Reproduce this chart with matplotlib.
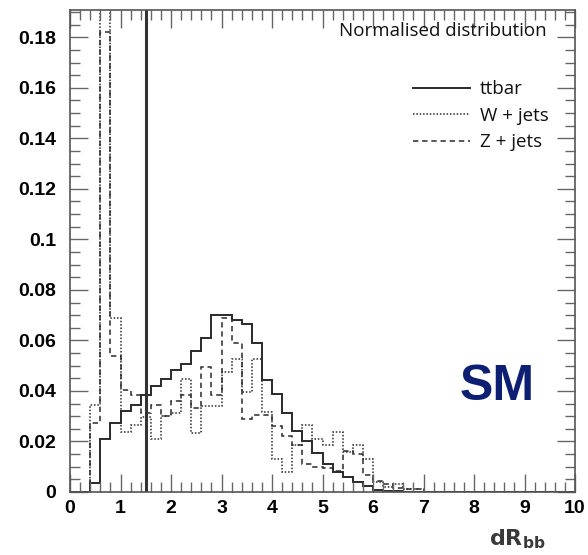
import matplotlib
matplotlib.use("Agg")
import matplotlib.pyplot as plt
from matplotlib.lines import Line2D
from matplotlib.ticker import MultipleLocator, FixedLocator
import numpy as np

# bin edges (width 0.2 from 0 to 10)
bin_edges = [round(0.2 * i, 1) for i in range(51)]

ttbar = [0, 0, 0.0036, 0.0211, 0.0274, 0.0320, 0.0345, 0.0383, 0.0419, 0.0446,
         0.0482, 0.0505, 0.0557, 0.0610, 0.0700, 0.0700, 0.0682, 0.0664, 0.0591, 0.0445,
         0.0388, 0.0314, 0.0243, 0.0202, 0.0155, 0.0111, 0.0081, 0.0058, 0.0040, 0.0023,
         0.0008, 0.0004, 0.0002, 0, 0, 0, 0, 0, 0, 0,
         0, 0, 0, 0, 0, 0, 0, 0, 0, 0]

wjets = [0, 0, 0.0343, 0.2100, 0.0688, 0.0236, 0.0264, 0.0295, 0.0209, 0.0300,
         0.0312, 0.0449, 0.0235, 0.0342, 0.0342, 0.0477, 0.0528, 0.0394, 0.0528, 0.0315,
         0.0130, 0.0078, 0.0186, 0.0264, 0.0211, 0.0185, 0.0238, 0.0158, 0.0185, 0.0132,
         0.0040, 0.0020, 0.0030, 0.0013, 0.0013, 0, 0, 0, 0, 0,
         0, 0, 0, 0, 0, 0, 0, 0, 0, 0]

zjets = [0, 0, 0.0273, 0.1820, 0.0537, 0.0403, 0.0385, 0.0314, 0.0346, 0.0302,
         0.0359, 0.0383, 0.0331, 0.0495, 0.0383, 0.0690, 0.0591, 0.0290, 0.0304, 0.0304,
         0.0261, 0.0221, 0.0187, 0.0111, 0.0097, 0.0096, 0.0083, 0.0161, 0.0152, 0.0069,
         0.0042, 0.0030, 0.0015, 0.0013, 0.0013, 0, 0, 0, 0, 0,
         0, 0, 0, 0, 0, 0, 0, 0, 0, 0]

cut_value = 1.5
series_labels = ["ttbar", "W + jets", "Z + jets"]
x_ticks = [0, 1, 2, 3, 4, 5, 6, 7, 8, 9, 10]
y_ticks = [0, 0.02, 0.04, 0.06, 0.08, 0.1, 0.12, 0.14, 0.16, 0.18]
y_tick_labels = ["0", "0.02", "0.04", "0.06", "0.08", "0.1", "0.12", "0.14", "0.16", "0.18"]

W, H = 588, 555
fig = plt.figure(figsize=(W / 100, H / 100), dpi=100)
ax = fig.add_axes([70 / W, 1 - 492 / H, 505 / W, 482 / H])

lc = "#2a2a2a"
ax.stairs(ttbar, bin_edges, color=lc, linewidth=1.4, linestyle="-")
ax.stairs(wjets, bin_edges, color=lc, linewidth=1.1, linestyle=(0, (1, 1.2)))
ax.stairs(zjets, bin_edges, color=lc, linewidth=1.1, linestyle=(0, (3.5, 2.5)))
ax.axvline(cut_value, color="#333333", linewidth=2.2)

ax.set_xlim(0, 10)
ax.set_ylim(0, 0.1908)

tick_font = dict(family="Liberation Sans", weight="bold", size=14)
ax.xaxis.set_major_locator(FixedLocator(x_ticks))
ax.xaxis.set_minor_locator(MultipleLocator(0.2))
ax.yaxis.set_major_locator(FixedLocator(y_ticks))
ax.yaxis.set_minor_locator(MultipleLocator(0.005))
ax.set_xticklabels([str(v) for v in x_ticks], fontdict=tick_font)
ax.set_yticklabels(y_tick_labels, fontdict=tick_font)

frame_c = "#555555"
for s in ax.spines.values():
    s.set_color(frame_c)
    s.set_linewidth(1.2)
ax.tick_params(which="both", direction="in", top=True, right=True, color="#666666", width=1.0)
ax.tick_params(which="major", length=13)
ax.tick_params(which="minor", length=7)
ax.tick_params(axis="y", which="major", pad=10)
ax.tick_params(axis="x", which="major", pad=6)

fig.text(546 / W, 1 - 545 / H, r"$\mathbf{dR_{bb}}$", ha="right", va="baseline",
         fontsize=16, color="#3a3a3a")

ax.text(0.944, 0.956, "Normalised distribution", transform=ax.transAxes,
        ha="right", va="center", fontsize=13.5, family="Open Sans", color="#111111")

handles = [Line2D([], [], color=lc, lw=1.4, linestyle="-"),
           Line2D([], [], color=lc, lw=1.1, linestyle=(0, (1, 1.2))),
           Line2D([], [], color=lc, lw=1.1, linestyle=(0, (3.5, 2.5)))]
leg = ax.legend(handles, series_labels, loc="upper left",
                bbox_to_anchor=(404 / W, 1 - 71 / H), bbox_transform=fig.transFigure,
                frameon=False, prop=dict(family="Open Sans", size=13.5),
                handlelength=3.0, handletextpad=0.55, labelspacing=0.45, borderpad=0)
for t in leg.get_texts():
    t.set_color("#111111")

ax.text(0.921, 0.218, "SM", transform=ax.transAxes, ha="right", va="center",
        fontsize=36, fontweight="bold", family="Liberation Sans", color="#0d1f73")

fig.savefig("out.png", dpi=100)
